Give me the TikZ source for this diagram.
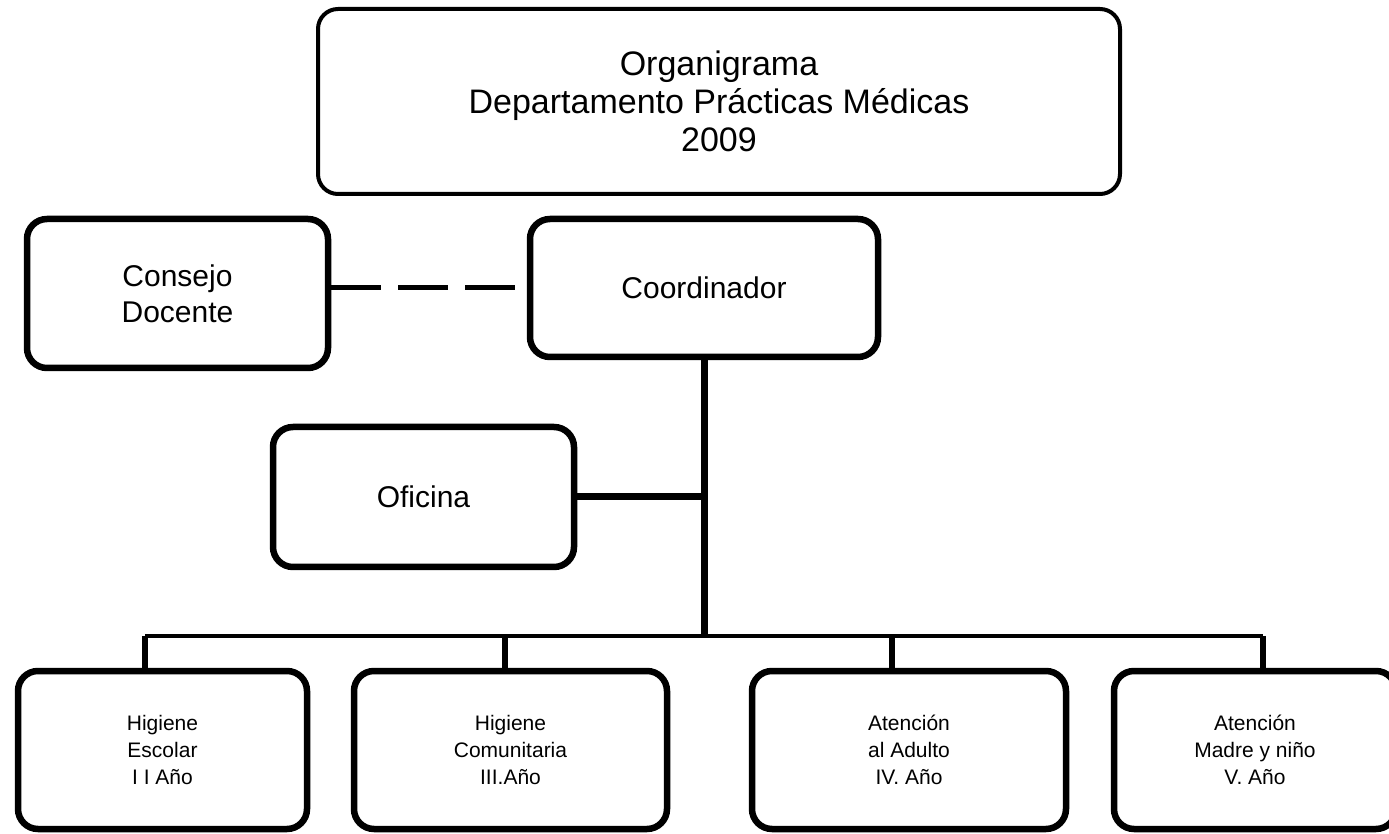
\documentclass[tikz,border=0pt]{standalone}
\usepackage{fontspec}
\setmainfont{Liberation Sans}
\begin{document}
\begin{tikzpicture}[x=0.5pt,y=-0.5pt,
  orgbox/.style={draw=black, line width=3.25pt, rounded corners=10pt,
    align=center, inner sep=0pt, fill=white},
  bigtext/.style={font=\fontsize{17}{19}\selectfont},
  midtext/.style={font=\fontsize{15}{18}\selectfont},
  smalltext/.style={font=\fontsize{10.5}{13.5}\selectfont},
  trunk/.style={line width=3.5pt},
  branch/.style={line width=3.25pt},
  bus/.style={line width=2.25pt},
  advisory/.style={line width=2.5pt, dash pattern=on 25pt off 8.5pt}]
\useasboundingbox (0,0) rectangle (1389,834);
\clip (0,0) rectangle (1389,834);

% title
\node[orgbox, line width=2pt, bigtext, minimum width=401pt, minimum height=92.5pt]
  (title) at (719,101.5) {Organigrama\\Departamento Prácticas Médicas\\2009};

% upper level
\node[orgbox, midtext, minimum width=150.5pt, minimum height=74.5pt]
  (consejo) at (177.5,293.5) {Consejo\\Docente};
\node[orgbox, midtext, minimum width=174pt, minimum height=69pt]
  (coord) at (704,288) {Coordinador};
\node[orgbox, midtext, minimum width=150.5pt, minimum height=70pt]
  (oficina) at (423.5,497) {Oficina};

% areas
\node[orgbox, smalltext, minimum width=144.5pt, minimum height=79pt]
  (b1) at (162.5,750) {Higiene\\Escolar\\I I Año};
\node[orgbox, smalltext, minimum width=156.5pt, minimum height=79pt]
  (b2) at (510.5,750) {Higiene\\Comunitaria\\III.Año};
\node[orgbox, smalltext, minimum width=157pt, minimum height=79pt]
  (b3) at (909,750) {Atención\\al Adulto\\IV. Año};
\node[orgbox, smalltext, minimum width=141pt, minimum height=79pt]
  (b4) at (1255,750) {Atención\\Madre y niño\\V. Año};

% connectors
\coordinate (hub) at (704,636);
\coordinate (d1) at (145,636);
\coordinate (d2) at (505,636);
\coordinate (d3) at (892,636);
\coordinate (d4) at (1263,636);

\draw[advisory] (coord.west -| consejo.east) -- (coord.west);
\draw[trunk] (coord.south) -- (hub);
\draw[trunk] (oficina.east) -- (oficina.east -| hub);
\draw[bus] (d1) -- (d4);
\draw[branch] (d1) -- (d1 |- b1.north);
\draw[branch] (d2) -- (d2 |- b2.north);
\draw[branch] (d3) -- (d3 |- b3.north);
\draw[branch] (d4) -- (d4 |- b4.north);
\end{tikzpicture}
\end{document}
